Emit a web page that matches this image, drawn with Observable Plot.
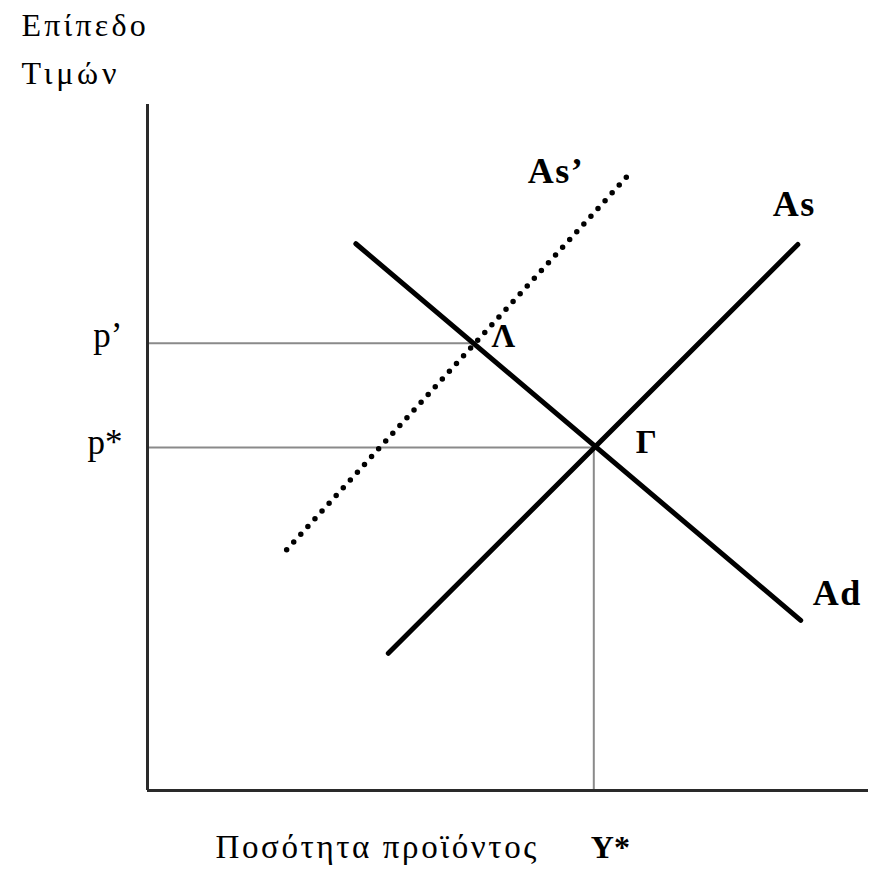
<!DOCTYPE html>
<html>
<head>
<meta charset="utf-8">
<script src="https://cdn.jsdelivr.net/npm/d3@7"></script>
<script src="https://cdn.jsdelivr.net/npm/@observablehq/plot@0.6"></script>
<style>
  html, body { margin: 0; padding: 0; background: #fff; }
  svg { display: block; }
</style>
</head>
<body>
<div id="chart"></div>
<script>
// Curves (quantity Q, price level P)
const adQ = [28.9, 90.6], adP = [79.7, 24.8];      // Ad
const asQ = [33.4, 90.2], asP = [20.0, 79.6];      // As
const as2Q = [19.3, 66.6], as2P = [35.1, 89.6];    // As'
// Equilibria
const yStar = 61.9, pStar = 50.0;                  // Γ
const qPrime = 45.5, pPrime = 65.2;                // Λ
// Axis extent
const qMax = 100, pMax = 100;
// Texts
const yTitle = ["Επίπεδο", "Τιμών"];
const xTitle = "Ποσότητα προϊόντος";
const yTickLabels = ["p’", "p*"];
const xTickLabel = "Y*";
const curveLabels = ["Ad", "As", "As’"];
const pointLabels = ["Λ", "Γ"];

const toPts = (qs, ps) => qs.map((q, i) => ({q, p: ps[i]}));
const ad = toPts(adQ, adP), as = toPts(asQ, asP), as2 = toPts(as2Q, as2P);
const serif = "'Liberation Serif', 'DejaVu Serif', serif";

const chart = Plot.plot({
  width: 879,
  height: 869,
  margin: 0,
  style: {fontFamily: serif, background: "#fff", color: "#000"},
  x: {domain: [0, qMax], range: [147, 868], axis: null},
  y: {domain: [0, pMax], range: [790, 104], axis: null},
  marks: [
    // guide lines
    Plot.ruleY([pPrime], {x1: 0, x2: qPrime, stroke: "#8a8a8a", strokeWidth: 2}),
    Plot.ruleY([pStar], {x1: 0, x2: yStar, stroke: "#8a8a8a", strokeWidth: 2}),
    Plot.ruleX([yStar], {y1: 0, y2: pStar, stroke: "#8a8a8a", strokeWidth: 2}),
    // axes
    Plot.ruleX([0], {y1: 0, y2: pMax, stroke: "#2a2a2a", strokeWidth: 3}),
    Plot.ruleY([0], {x1: 0, x2: qMax, stroke: "#2a2a2a", strokeWidth: 3}),
    // curves
    Plot.line(as2, {x: "q", y: "p", stroke: "#000", strokeWidth: 5.5, strokeDasharray: "0 10.5", strokeLinecap: "round"}),
    Plot.line(ad, {x: "q", y: "p", stroke: "#000", strokeWidth: 5, strokeLinecap: "round"}),
    Plot.line(as, {x: "q", y: "p", stroke: "#000", strokeWidth: 5, strokeLinecap: "round"}),
    // y axis title
    Plot.text([yTitle[0]], {x: 0, y: pMax, text: d => d, dx: -126, dy: -69, textAnchor: "start", lineAnchor: "bottom", fontSize: 32}),
    Plot.text([yTitle[1]], {x: 0, y: pMax, text: d => d, dx: -126, dy: -21, textAnchor: "start", lineAnchor: "bottom", fontSize: 32}),
    // x axis title
    Plot.text([xTitle], {x: 0, y: 0, text: d => d, dx: 68, dy: 67, textAnchor: "start", lineAnchor: "bottom", fontSize: 33}),
    Plot.text([xTickLabel], {x: yStar, y: 0, text: d => d, dx: -3, dy: 67, textAnchor: "start", lineAnchor: "bottom", fontSize: 32, fontWeight: "bold"}),
    // y tick labels
    Plot.text([yTickLabels[0]], {x: 0, y: pPrime, text: d => d, dx: -25, dy: 4, textAnchor: "end", lineAnchor: "bottom", fontSize: 35}),
    Plot.text([yTickLabels[1]], {x: 0, y: pStar, text: d => d, dx: -25, dy: 6, textAnchor: "end", lineAnchor: "bottom", fontSize: 35}),
    // curve labels
    Plot.text([curveLabels[0]], {x: adQ[1], y: adP[1], text: d => d, dx: 12, dy: -15, textAnchor: "start", lineAnchor: "bottom", fontSize: 36, fontWeight: "bold"}),
    Plot.text([curveLabels[1]], {x: asQ[1], y: asP[1], text: d => d, dx: -25, dy: -28, textAnchor: "start", lineAnchor: "bottom", fontSize: 36, fontWeight: "bold"}),
    Plot.text([curveLabels[2]], {x: as2Q[1], y: as2P[1], text: d => d, dx: -100, dy: 7, textAnchor: "start", lineAnchor: "bottom", fontSize: 36, fontWeight: "bold"}),
    // point labels
    Plot.text([pointLabels[0]], {x: qPrime, y: pPrime, text: d => d, dx: 16, dy: 4, textAnchor: "start", lineAnchor: "bottom", fontSize: 33, fontWeight: "bold"}),
    Plot.text([pointLabels[1]], {x: yStar, y: pStar, text: d => d, dx: 42, dy: 5, textAnchor: "start", lineAnchor: "bottom", fontSize: 33, fontWeight: "bold"})
  ]
});
// widen the letter spacing to match the wide Greek serif of the original
const spacing = new Map([
  [yTitle[0], 3.2], [yTitle[1], 3.8], [xTitle, 2.6],
  [curveLabels[0], 1.5], [curveLabels[1], 1.5], [curveLabels[2], 1.5]
]);
d3.select(chart).selectAll("text").each(function() {
  const s = spacing.get(this.textContent);
  if (s != null) this.setAttribute("letter-spacing", s);
});
document.getElementById("chart").appendChild(chart);
</script>
</body>
</html>
